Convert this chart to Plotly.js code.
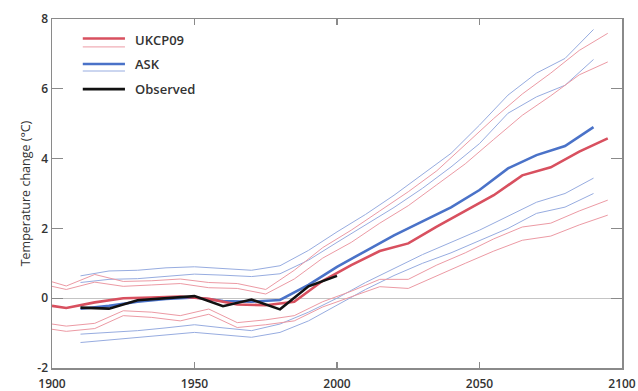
<!DOCTYPE html>
<html>
<head>
<meta charset="utf-8">
<script src="https://cdn.plot.ly/plotly-3.0.1.min.js"></script>
<style>html,body{margin:0;padding:0;background:#fff;}#chart{width:638px;height:391px;}</style>
</head>
<body>
<div id="chart"></div>
<script>
// UKCP09 projections (years and values)
var ukYears = [1900,1905,1915,1925,1935,1945,1955,1965,1975,1985,1995,2005,2015,2025,2035,2045,2055,2065,2075,2085,2095];
var ukCentral = [-0.22,-0.28,-0.12,0.0,0.02,0.05,-0.02,-0.18,-0.2,-0.1,0.5,0.95,1.35,1.57,2.05,2.5,2.95,3.52,3.75,4.2,4.58];
var ukUpper1 = [0.47,0.35,0.68,0.48,0.5,0.55,0.45,0.42,0.25,0.8,1.45,1.95,2.5,3.05,3.65,4.4,5.15,5.85,6.45,7.1,7.59];
var ukUpper2 = [0.34,0.25,0.46,0.34,0.38,0.42,0.3,0.28,0.12,0.55,1.15,1.6,2.15,2.65,3.25,3.85,4.55,5.24,5.8,6.4,6.77];
var ukLower1 = [-0.74,-0.8,-0.72,-0.36,-0.4,-0.5,-0.31,-0.7,-0.62,-0.5,-0.1,0.2,0.54,0.54,0.95,1.3,1.7,2.04,2.15,2.5,2.81];
var ukLower2 = [-0.89,-0.95,-0.87,-0.5,-0.55,-0.65,-0.46,-0.84,-0.76,-0.65,-0.25,0.05,0.33,0.28,0.65,1.0,1.35,1.66,1.78,2.1,2.38];

// ASK projections
var askYears = [1910,1920,1930,1940,1950,1960,1970,1980,1990,2000,2010,2020,2030,2040,2050,2060,2070,2080,2090];
var askCentral = [-0.3,-0.22,-0.1,-0.02,0.02,-0.08,-0.1,-0.05,0.38,0.9,1.35,1.8,2.2,2.6,3.1,3.72,4.1,4.36,4.9];
var askUpper1 = [0.64,0.78,0.8,0.87,0.9,0.85,0.8,0.93,1.37,1.9,2.4,2.95,3.55,4.15,4.96,5.82,6.45,6.87,7.7];
var askUpper2 = [0.45,0.54,0.56,0.62,0.69,0.66,0.62,0.7,1.09,1.6,2.1,2.6,3.15,3.76,4.43,5.3,5.77,6.1,6.84];
var askLower1 = [-1.03,-0.98,-0.93,-0.85,-0.76,-0.85,-0.93,-0.74,-0.4,0.0,0.45,0.85,1.25,1.6,1.95,2.35,2.75,3.0,3.44];
var askLower2 = [-1.27,-1.2,-1.12,-1.05,-0.98,-1.05,-1.12,-0.98,-0.65,-0.2,0.25,0.65,1.0,1.3,1.66,2.0,2.43,2.61,3.0];

// Observed
var obsYears = [1910,1920,1930,1940,1950,1960,1970,1980,1990,2000];
var obsValues = [-0.27,-0.3,-0.06,0.0,0.06,-0.23,-0.04,-0.32,0.34,0.64];

var xTicks = [1900,1950,2000,2050,2100];
var yTicks = [-2,0,2,4,6,8];
var legendLabels = ['UKCP09','ASK','Observed'];

var RED = '#d8505f', RED_THIN = '#ec9aa4';
var BLUE = '#4a72c8', BLUE_THIN = '#97ace0';

function line(x, y, color, width) {
  return {x: x, y: y, type: 'scatter', mode: 'lines', showlegend: false, hoverinfo: 'skip',
          line: {color: color, width: width}};
}

var data = [
  line(askYears, askUpper1, BLUE_THIN, 1),
  line(askYears, askUpper2, BLUE_THIN, 1),
  line(askYears, askLower1, BLUE_THIN, 1),
  line(askYears, askLower2, BLUE_THIN, 1),
  line(ukYears, ukUpper1, RED_THIN, 1),
  line(ukYears, ukUpper2, RED_THIN, 1),
  line(ukYears, ukLower1, RED_THIN, 1),
  line(ukYears, ukLower2, RED_THIN, 1),
  line(askYears, askCentral, BLUE, 2.6),
  line(ukYears, ukCentral, RED, 2.6),
  line(obsYears, obsValues, '#111111', 2.6)
];

var fontFam = '"Open Sans", "DejaVu Sans", sans-serif';
var lx0 = 0.054, lx1 = 0.128, ltx = 0.142;
var ly = [0.94, 0.871, 0.799];
var thinOff = 0.02;

var shapes = [
  {type:'line', xref:'paper', yref:'paper', x0:lx0, x1:lx1, y0:ly[0]+0.004, y1:ly[0]+0.004, line:{color:RED, width:2.6}},
  {type:'line', xref:'paper', yref:'paper', x0:lx0, x1:lx1, y0:ly[0]-thinOff, y1:ly[0]-thinOff, line:{color:RED_THIN, width:1}},
  {type:'line', xref:'paper', yref:'paper', x0:lx0, x1:lx1, y0:ly[1], y1:ly[1], line:{color:BLUE, width:2.6}},
  {type:'line', xref:'paper', yref:'paper', x0:lx0, x1:lx1, y0:ly[1]-thinOff, y1:ly[1]-thinOff, line:{color:BLUE_THIN, width:1}},
  {type:'line', xref:'paper', yref:'paper', x0:lx0, x1:lx1, y0:ly[2], y1:ly[2], line:{color:'#111', width:2.6}}
];

var annotations = legendLabels.map(function(t, i) {
  return {text: t, xref:'paper', yref:'paper', x: ltx, y: ly[i], xanchor:'left', yanchor:'middle',
          showarrow:false, font:{family: fontFam, size: 13, color:'#333', weight: 600}};
});

var axisCommon = {
  showgrid: false, showline: true, linecolor: '#8a8a8a', linewidth: 1.5,
  ticks: 'inside', tickcolor: '#8a8a8a', tickwidth: 1.2, mirror: 'ticks',
  tickfont: {family: fontFam, size: 12, color: '#333', weight: 600}
};

var layout = {
  width: 638, height: 391,
  margin: {l: 52, r: 16, t: 19, b: 23},
  paper_bgcolor: '#fff', plot_bgcolor: '#fff',
  showlegend: false,
  xaxis: Object.assign({}, axisCommon, {
    range: [1900, 2100], tickvals: xTicks, ticktext: xTicks.map(String), ticklen: 6,
    zeroline: false, ticklabelstandoff: 4
  }),
  yaxis: Object.assign({}, axisCommon, {
    range: [-2, 8], tickvals: yTicks, ticktext: yTicks.map(String), ticklen: 11,
    zeroline: true, zerolinecolor: '#c4c4c4', zerolinewidth: 1,
    title: {text: 'Temperature change (°C)', font: {family: fontFam, size: 12.5, color: '#333'}, standoff: 4}
  }),
  shapes: shapes,
  annotations: annotations
};

Plotly.newPlot('chart', data, layout, {displayModeBar: false, staticPlot: true});
</script>
</body>
</html>
